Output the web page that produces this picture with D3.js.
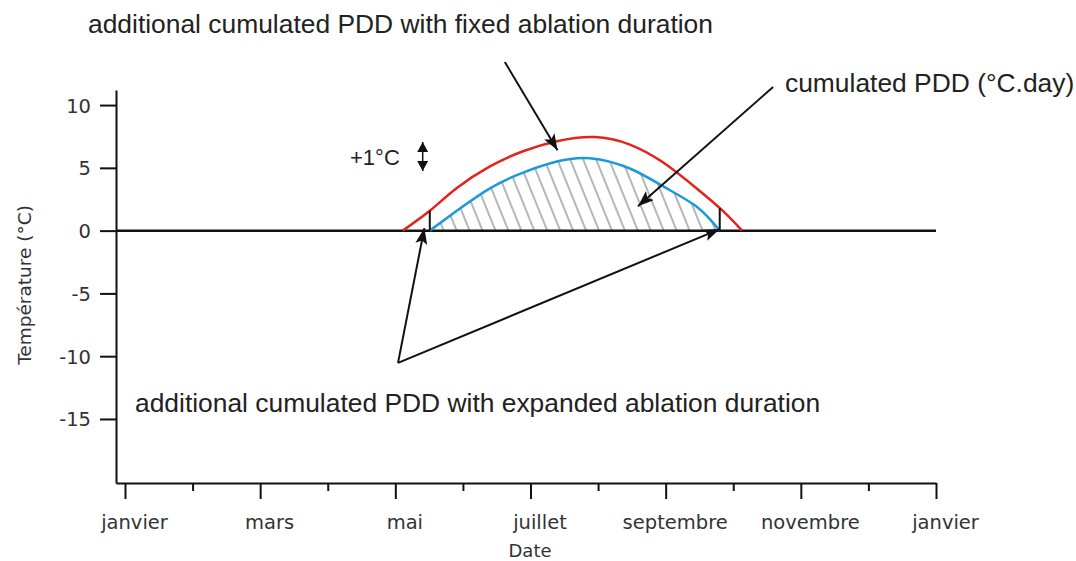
<!DOCTYPE html>
<html>
<head>
<meta charset="utf-8">
<script src="https://cdn.jsdelivr.net/npm/d3@7"></script>
<style>
  body { margin: 0; background: #fff; }
  .axis text { font-family: 'DejaVu Sans', sans-serif; font-size: 19.5px; fill: #333; }
  .axis path, .axis line { stroke: #111; stroke-width: 2px; }
  .note { font-family: 'Liberation Sans', Arial, sans-serif; font-size: 26.4px; fill: #222; }
</style>
</head>
<body>
<div id="chart"></div>
<script>
const width = 1076,
      height = 561

// month labels on even month index, y ticks
const monthLabels = ['janvier', 'mars', 'mai', 'juillet', 'septembre', 'novembre', 'janvier']
const majorMonths = [0, 2, 4, 6, 8, 10, 12]
const minorMonths = [1, 3, 5, 7, 9, 11]
const yTicks = [10, 5, 0, -5, -10, -15]

// cumulated PDD curve (blue), month index (0 = janvier) and temperature
const blueMonth = [4.51, 4.91, 5.40, 5.89, 6.39, 6.88, 7.47, 7.97, 8.46, 8.80]
const blueTemp  = [0, 1.58, 3.37, 4.62, 5.50, 5.77, 4.95, 3.50, 1.90, 0]

// +1°C curve (red)
const redMonth = [4.11, 4.51, 4.91, 5.40, 5.89, 6.39, 6.95, 7.47, 7.97, 8.46, 8.85, 9.13]
const redTemp  = [0, 1.58, 3.39, 5.12, 6.32, 7.12, 7.45, 6.85, 5.40, 3.35, 1.55, 0]

// annotation arrows, [fromMonth, fromTemp, toMonth, toTemp]
const arrows = [
  [5.62, 13.43, 6.40, 6.41],
  [9.59, 11.44, 7.59, 1.95],
  [4.04, -10.53, 4.43, 0.20],
  [4.04, -10.53, 8.80, 0.12]
]

const blue = blueMonth.map((m, i) => ({ m: m, t: blueTemp[i] }))
const red = redMonth.map((m, i) => ({ m: m, t: redTemp[i] }))

const svg = d3.select('#chart')
  .append('svg')
  .attr('width', width)
  .attr('height', height)

const x = d3.scaleLinear()
  .domain([-0.133, 12])
  .range([116, 936])

const y = d3.scaleLinear()
  .domain([-20.1, 11.2])
  .range([483, 90])

const defs = svg.append('defs')

defs.append('pattern')
  .attr('id', 'hatch')
  .attr('patternUnits', 'userSpaceOnUse')
  .attr('width', 12)
  .attr('height', 12)
  .attr('patternTransform', 'rotate(-22)')
  .append('line')
  .attr('x1', 1).attr('y1', 0)
  .attr('x2', 1).attr('y2', 12)
  .attr('stroke', '#6e6e6e')
  .attr('stroke-width', 1)

defs.append('marker')
  .attr('id', 'head')
  .attr('viewBox', '0 0 16 12')
  .attr('refX', 16)
  .attr('refY', 6)
  .attr('markerWidth', 16)
  .attr('markerHeight', 12)
  .attr('markerUnits', 'userSpaceOnUse')
  .attr('orient', 'auto-start-reverse')
  .append('path')
  .attr('d', 'M0,0 L16,6 L0,12 L3.5,6 Z')
  .attr('fill', '#111')

defs.append('marker')
  .attr('id', 'small')
  .attr('viewBox', '0 0 10 11')
  .attr('refX', 10)
  .attr('refY', 5.5)
  .attr('markerWidth', 10)
  .attr('markerHeight', 11)
  .attr('markerUnits', 'userSpaceOnUse')
  .attr('orient', 'auto-start-reverse')
  .append('path')
  .attr('d', 'M0,0 L10,5.5 L0,11 Z')
  .attr('fill', '#111')

const smooth = d3.curveNatural

// hatched area under the blue curve
const area = d3.area()
  .x(d => x(d.m))
  .y0(y(0))
  .y1(d => y(d.t))
  .curve(smooth)

svg.append('path')
  .datum(blue)
  .attr('d', area)
  .attr('fill', 'url(#hatch)')

// axes
const yAxis = svg.append('g')
  .attr('class', 'axis')
  .attr('transform', 'translate(' + x(-0.133) + ',0)')
  .call(d3.axisLeft(y).tickValues(yTicks).tickSize(16).tickSizeOuter(0).tickPadding(9)
    .tickFormat(d => String(d)))
yAxis.selectAll('text').attr('dy', '0.36em')

const xAxis = svg.append('g')
  .attr('class', 'axis')
  .attr('transform', 'translate(0,' + y(-20.1) + ')')
  .call(d3.axisBottom(x).tickValues(majorMonths).tickSize(16).tickSizeOuter(0).tickPadding(16)
    .tickFormat((d, i) => monthLabels[i]))
xAxis.selectAll('text').attr('dx', 9)

svg.append('g')
  .attr('class', 'axis')
  .attr('transform', 'translate(0,' + y(-20.1) + ')')
  .call(d3.axisBottom(x).tickValues(minorMonths).tickSize(8).tickSizeOuter(0).tickFormat(''))
  .select('.domain').remove()

svg.append('text')
  .attr('x', 530)
  .attr('y', 557)
  .attr('text-anchor', 'middle')
  .style('font-family', "'DejaVu Sans', sans-serif")
  .style('font-size', '18px')
  .style('fill', '#333')
  .text('Date')

svg.append('text')
  .attr('transform', 'translate(31,285) rotate(-90)')
  .attr('text-anchor', 'middle')
  .style('font-family', "'DejaVu Sans', sans-serif")
  .style('font-size', '18.5px')
  .style('fill', '#333')
  .text('Température (°C)')

// zero line
svg.append('line')
  .attr('x1', x(-0.133)).attr('x2', x(12))
  .attr('y1', y(0)).attr('y2', y(0))
  .attr('stroke', '#111')
  .attr('stroke-width', 2.5)

const line = d3.line()
  .x(d => x(d.m))
  .y(d => y(d.t))
  .curve(smooth)

svg.append('path')
  .datum(red)
  .attr('d', line)
  .attr('fill', 'none')
  .attr('stroke', '#e3231c')
  .attr('stroke-width', 2.5)

svg.append('path')
  .datum(blue)
  .attr('d', line)
  .attr('fill', 'none')
  .attr('stroke', '#1b9ad8')
  .attr('stroke-width', 2.5)

// vertical bars from zero to red curve at blue start and end
const redTempAt = function(m) {
  const i = d3.bisectLeft(redMonth, m)
  const a = red[i - 1], b = red[i]
  return a.t + (b.t - a.t) * (m - a.m) / (b.m - a.m)
}
;[blueMonth[0], blueMonth[blueMonth.length - 1]].forEach(function(m) {
  svg.append('line')
    .attr('x1', x(m)).attr('x2', x(m))
    .attr('y1', y(0)).attr('y2', y(redTempAt(m)))
    .attr('stroke', '#111')
    .attr('stroke-width', 2)
})

// arrows
svg.selectAll('.arrow')
  .data(arrows)
  .enter()
  .append('line')
  .attr('class', 'arrow')
  .attr('x1', d => x(d[0]))
  .attr('y1', d => y(d[1]))
  .attr('x2', d => x(d[2]))
  .attr('y2', d => y(d[3]))
  .attr('stroke', '#111')
  .attr('stroke-width', 2)
  .attr('marker-end', 'url(#head)')

// +1°C double arrow
svg.append('line')
  .attr('x1', 422.7).attr('y1', 142)
  .attr('x2', 422.7).attr('y2', 171)
  .attr('stroke', '#111')
  .attr('stroke-width', 1.5)
  .attr('marker-start', 'url(#small)')
  .attr('marker-end', 'url(#small)')

// notes
const notes = [
  ['additional cumulated PDD with fixed ablation duration', 88, 33],
  ['cumulated PDD (°C.day)', 785, 92],
  ['additional cumulated PDD with expanded ablation duration', 135, 412]
]
svg.selectAll('.note')
  .data(notes)
  .enter()
  .append('text')
  .attr('class', 'note')
  .attr('x', d => d[1])
  .attr('y', d => d[2])
  .text(d => d[0])

svg.append('text')
  .attr('class', 'note')
  .attr('x', 350)
  .attr('y', 165)
  .style('font-size', '22px')
  .text('+1°C')
</script>
</body>
</html>
